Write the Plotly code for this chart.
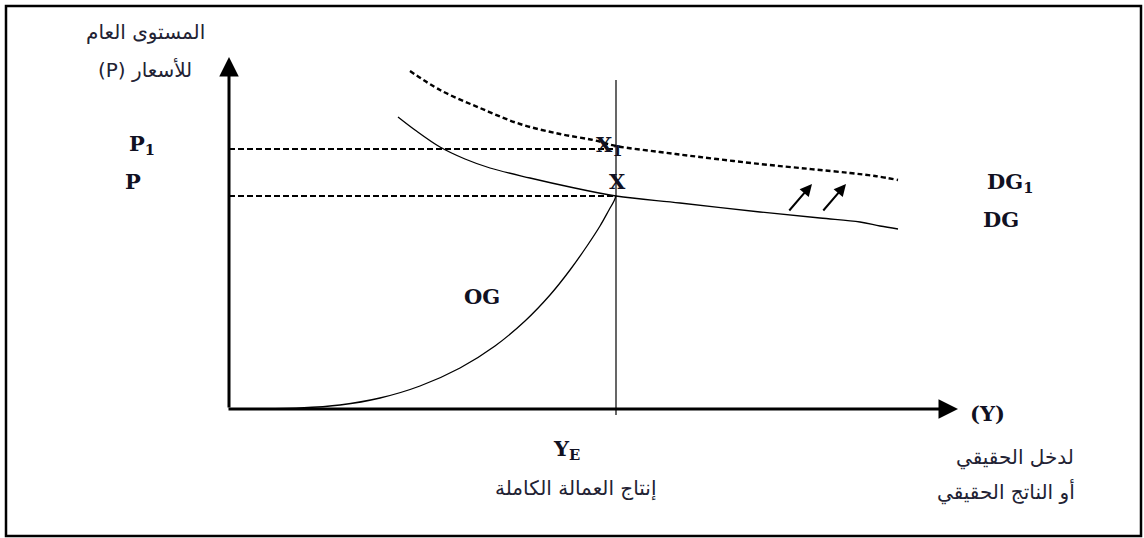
import plotly.graph_objects as go

# ---- data (diagram coordinates, pixel-like units, y downward) ----
origin = (229, 409)
y_axis_top = 57
x_axis_end = 958
ye_x = 616
ye_line_top = 80
ye_line_bottom = 415
p1_level = 149
p_level = 196

dg1_x = [410, 440, 480, 520, 560, 593, 616, 660, 700, 760, 810, 850, 875, 898]
dg1_y = [71, 90, 108, 124, 134, 140, 146, 152, 157, 164, 169, 173, 176, 180]

dg_x = [398, 415, 440, 465, 490, 530, 570, 616, 680, 760, 820, 860, 880, 898]
dg_y = [117, 130, 147, 159, 168, 178, 187, 196, 203, 212, 218, 222, 226, 229]

og_x = [250, 300, 340, 380, 420, 460, 495, 525, 550, 570, 587, 600, 609, 614, 616]
og_y = [409, 408, 405, 398, 386, 368, 346, 321, 295, 270, 246, 226, 210, 201, 196]

shift_arrows_start = [(788, 212), (822, 212)]
shift_arrows_end = [(812, 184), (846, 184)]

serif_labels = [
    ("P<sub>1</sub>", 142, 144),
    ("P", 133, 181),
    ("X<sub>1</sub>", 609, 145),
    ("X", 617, 181),
    ("DG<sub>1</sub>", 1010, 182),
    ("DG", 1001, 219),
    ("OG", 482, 296),
    ("(Y)", 987, 413),
    ("Y<sub>E</sub>", 566, 449),
]

arabic_labels = [
    ("المستوى العام", 145, 32),
    ("(P) للأسعار", 145, 70),
    ("إنتاج العمالة الكاملة", 576, 488),
    ("لدخل الحقيقي", 1015, 457),
    ("أو الناتج الحقيقي", 1006, 492),
]

fig = go.Figure()

# dashed price levels
for lvl in (p1_level, p_level):
    fig.add_trace(go.Scatter(x=[origin[0], ye_x], y=[lvl, lvl], mode="lines",
                             line=dict(color="black", width=2, dash="6px,3px"),
                             hoverinfo="skip", showlegend=False))

# vertical full-employment line
fig.add_trace(go.Scatter(x=[ye_x, ye_x], y=[ye_line_top, ye_line_bottom], mode="lines",
                         line=dict(color="black", width=1.2),
                         hoverinfo="skip", showlegend=False))

# DG1 dashed curve
fig.add_trace(go.Scatter(x=dg1_x, y=dg1_y, mode="lines", line_shape="spline",
                         line=dict(color="black", width=2.4, dash="5px,3px"),
                         hoverinfo="skip", showlegend=False))
# DG curve
fig.add_trace(go.Scatter(x=dg_x, y=dg_y, mode="lines", line_shape="spline",
                         line=dict(color="black", width=1.3),
                         hoverinfo="skip", showlegend=False))
# OG curve
fig.add_trace(go.Scatter(x=og_x, y=og_y, mode="lines", line_shape="spline",
                         line=dict(color="black", width=1.3),
                         hoverinfo="skip", showlegend=False))

annotations = []
# axes arrows
annotations.append(dict(x=origin[0], y=y_axis_top, ax=origin[0], ay=origin[1],
                        xref="x", yref="y", axref="x", ayref="y", text="",
                        showarrow=True, arrowhead=2, arrowsize=1.3, arrowwidth=3,
                        arrowcolor="black", standoff=0))
annotations.append(dict(x=x_axis_end, y=origin[1], ax=origin[0] - 2, ay=origin[1],
                        xref="x", yref="y", axref="x", ayref="y", text="",
                        showarrow=True, arrowhead=2, arrowsize=1.3, arrowwidth=3,
                        arrowcolor="black", standoff=0))
# shift arrows
for (sx, sy), (ex, ey) in zip(shift_arrows_start, shift_arrows_end):
    annotations.append(dict(x=ex, y=ey, ax=sx, ay=sy, xref="x", yref="y",
                            axref="x", ayref="y", text="", showarrow=True,
                            arrowhead=2, arrowsize=1.2, arrowwidth=2,
                            arrowcolor="black", standoff=0))

for t, x, y in serif_labels:
    annotations.append(dict(x=x, y=y, xref="x", yref="y", text="<b>" + t + "</b>",
                            showarrow=False,
                            font=dict(family="DejaVu Serif", size=21, color="#111122")))
for t, x, y in arabic_labels:
    annotations.append(dict(x=x, y=y, xref="x", yref="y", text=t, showarrow=False,
                            font=dict(family="DejaVu Sans", size=20, color="#222233")))

fig.update_layout(
    width=1144, height=538,
    margin=dict(l=0, r=0, t=0, b=0),
    paper_bgcolor="white", plot_bgcolor="white",
    xaxis=dict(range=[0, 1144], visible=False, fixedrange=True),
    yaxis=dict(range=[538, 0], visible=False, fixedrange=True),
    annotations=annotations,
    shapes=[dict(type="rect", xref="paper", yref="paper",
                 x0=6 / 1144, x1=1141 / 1144, y0=1 - 536 / 538, y1=1 - 6 / 538,
                 line=dict(color="black", width=2.5), layer="below")],
)

fig.write_html("out.html", config={"displayModeBar": False},
               post_script="document.body.style.margin='0';document.body.style.overflow='hidden';")
